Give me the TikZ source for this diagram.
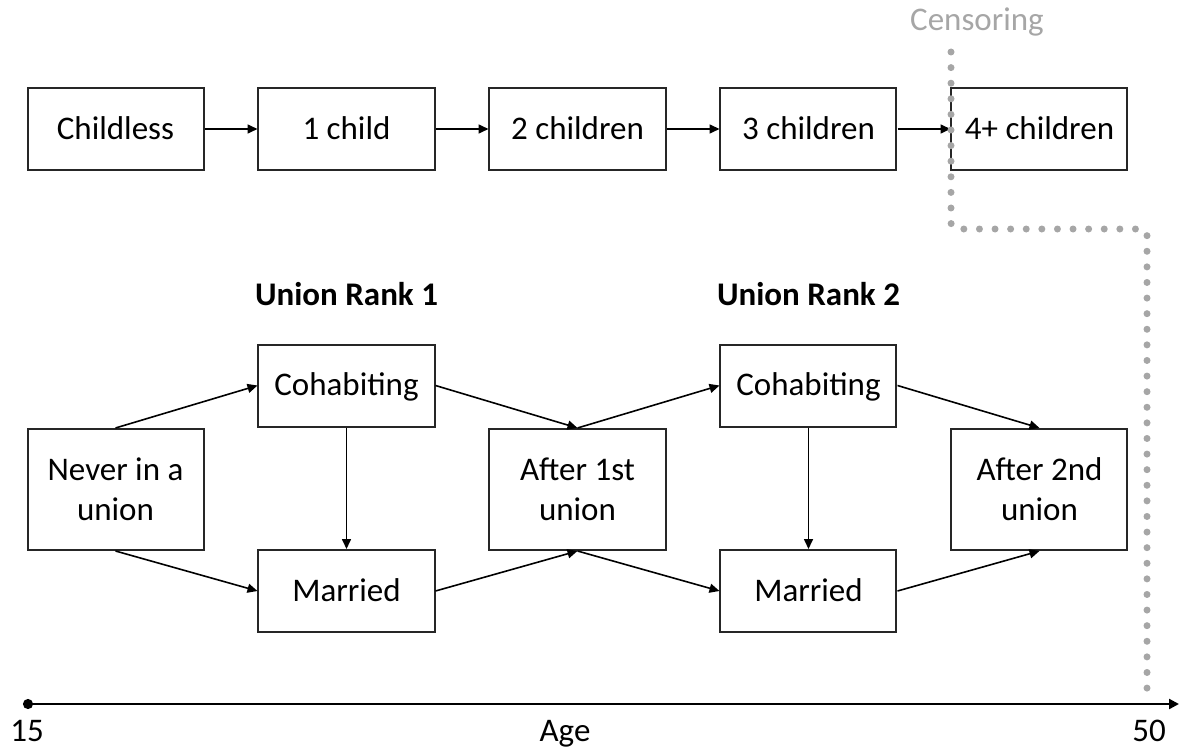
\documentclass[tikz,border=0pt]{standalone}
\usepackage{fontspec}
\setmainfont{Carlito}
\usetikzlibrary{matrix,arrows.meta}
\definecolor{censorgray}{HTML}{A6A6A6}

\begin{document}
\begin{tikzpicture}[x=0.5pt,y=-0.5pt,font=\fontsize{16.5}{20}\selectfont,
	>={Triangle[length=5pt,width=4.5pt]},
	state/.style={draw=black!85,line width=1pt,anchor=center,inner sep=2pt,minimum width=88pt,minimum height=41pt,text height=1em,text depth=0pt},
	tall/.style={minimum height=60.5pt,align=center,text height=,text depth=},
	rank/.style={draw=none,font=\fontsize{16.5}{20}\selectfont\bfseries}]
	\useasboundingbox (0,0) rectangle (1184,749);
	\matrix[nodes={state}, inner sep=0pt, column sep={115.5pt,between origins}, row sep=0pt] at (577.5,360)
	{ \node (childless) {Childless}; & \node (one) {1 child}; & \node (two) {2 children}; & \node (three) {3 children}; & \node (four) {4+ children}; \\[83pt,between origins]
	 & \node[rank] (rank1) {Union Rank 1}; & & \node[rank] (rank2) {Union Rank 2}; & \\[45.25pt,between origins]
	 & \node (cohab1) {Cohabiting}; & & \node (cohab2) {Cohabiting}; & \\[52pt,between origins]
	\node[tall] (never) {Never in a\\union}; & & \node[tall] (after1) {After 1st\\union}; & & \node[tall] (after2) {After 2nd\\union}; \\[50.75pt,between origins]
	 & \node (married1) {Married}; & & \node (married2) {Married}; & \\};
	\path[->,line width=0.8pt]
	(childless) edge (one)
	(one) edge (two)
	(two) edge (three)
	(three) edge (four);
	% union rank 1
	\path[->,line width=0.8pt]
	(never.north) edge (cohab1.west)
	(never.south) edge (married1.west)
	(cohab1) edge (married1)
	(cohab1.east) edge (after1.north)
	(married1.east) edge (after1.south);
	% union rank 2
	\path[->,line width=0.8pt]
	(after1.north) edge (cohab2.west)
	(after1.south) edge (married2.west)
	(cohab2) edge (married2)
	(cohab2.east) edge (after2.north)
	(married2.east) edge (after2.south);
	% age axis
	\coordinate (a0) at (23,704);
	\coordinate (a1) at (1179,704);
	\draw[line width=1.15pt,{Circle[length=5pt]}-{Triangle[length=5pt,width=5pt]}] (a0) -- (a1);
	\node[anchor=base] (age15) at (27,741) {15};
	\node[anchor=base] (age) at (565,741) {Age};
	\node[anchor=base] (age50) at (1149,741) {50};
	% censoring
	\node[anchor=base,text=censorgray] (cens) at (977,31) {Censoring};
	\coordinate (c0) at (951,52);
	\coordinate (c1) at (951,229);
	\coordinate (c2) at (1147,229);
	\coordinate (c3) at (1147,689);
	\draw[censorgray,line width=3.5pt,line cap=round,dash pattern=on 0pt off 7.8pt,rounded corners=3pt] (c0) -- (c1) -- (c2) -- (c3);
\end{tikzpicture}
\end{document}
